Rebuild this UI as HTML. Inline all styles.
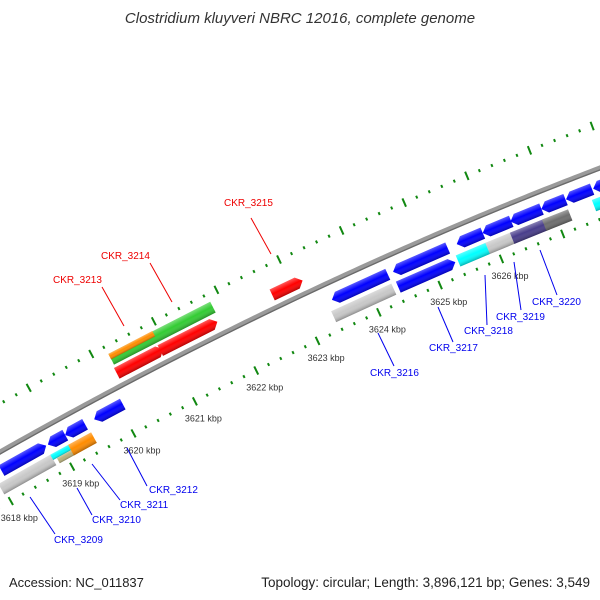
<!DOCTYPE html>
<html><head><meta charset="utf-8"><style>
html,body{margin:0;padding:0;background:#fff;width:600px;height:600px;overflow:hidden}
svg{display:block;font-family:"Liberation Sans",sans-serif}
</style></head><body>
<svg id="map" width="600" height="600" viewBox="0 0 600 600">
<defs>
<linearGradient id="shade" x1="0" y1="0" x2="0" y2="1">
<stop offset="0" stop-color="#fff" stop-opacity="0.35"/>
<stop offset="0.45" stop-color="#fff" stop-opacity="0"/>
<stop offset="1" stop-color="#000" stop-opacity="0.3"/>
</linearGradient>
</defs>
<text x="300" y="23" text-anchor="middle" font-size="15" font-style="italic" fill="#333">Clostridium kluyveri NBRC 12016, complete genome</text>
<text x="9" y="587" font-size="13" fill="#222">Accession: NC_011837</text>
<text x="590" y="587" text-anchor="end" font-size="13.5" fill="#222">Topology: circular; Length: 3,896,121 bp; Genes: 3,549</text>
<g id="ticks"></g><g id="backbone"></g><g id="genes"></g><g id="labels"></g>
</svg>
<script>
// data
const tickKbp = [3618,3619,3620,3621,3622,3623,3624,3625,3626];
const tickLabels = ["3618 kbp","3619 kbp","3620 kbp","3621 kbp","3622 kbp","3623 kbp","3624 kbp","3625 kbp","3626 kbp"];
const geneStart = [3618.10,3618.85,3619.13,3619.60,3623.45,3624.44,3625.47,3625.89,3626.34,3626.84,3627.24,3627.68,
  3617.97,3618.81,3618.87,3619.10,3623.37,3624.42,3625.39,3625.87,3626.27,3626.79,3627.60,
  3620.19,3620.89,3622.69,3620.21,3620.21];
const geneEnd = [3618.82,3619.13,3619.45,3620.06,3624.35,3625.32,3625.89,3626.35,3626.84,3627.23,3627.66,3628.10,
  3618.81,3619.10,3619.15,3619.47,3624.34,3625.34,3625.87,3626.32,3626.84,3627.21,3627.95,
  3620.94,3621.81,3623.18,3621.85,3620.92];
const geneStrand = [1,-1,-1,-1,-1,-1,-1,-1,-1,-1,-1,-1,
  0,0,0,0,0,1,0,0,0,0,0,
  1,1,1,0,0];
const geneTrack = ["b1","b1","b1","b1","b1","b1","b1","b1","b1","b1","b1","b1",
  "b2","b2t","b2b","b2","b2","b2","b2","b2","b2","b2","b2",
  "a1","a1","a1","a2","a2t"];
const geneColor = ["#0000ff","#0000ff","#0000ff","#0000ff","#0000ff","#0000ff","#0000ff","#0000ff","#0000ff","#0000ff","#0000ff","#0000ff",
  "#c8c8c8","#00ffff","#b8b07c","#ff8c00","#c8c8c8","#0000ff","#00ffff","#c8c8c8","#483d8b","#6e6e6e","#00ffff",
  "#ff0000","#ff0000","#ff0000","#33cc33","#ff8c00"];
const labelText = ["CKR_3209","CKR_3210","CKR_3211","CKR_3212","CKR_3213","CKR_3214","CKR_3215","CKR_3216","CKR_3217","CKR_3218","CKR_3219","CKR_3220"];
const labelColor = ["#0000ee","#0000ee","#0000ee","#0000ee","#ee0000","#ee0000","#ee0000","#0000ee","#0000ee","#0000ee","#0000ee","#0000ee"];
const labelX = [54,92,120,149,53,101,224,370,429,464,496,532];
const labelY = [543,523,508,493,283,259,206,376,351,334,320,305];
const lineFrom = [[30,497],[77,488],[92,464],[127,448],[102,287],[150,263],[251,218],[378,333],[438,307],[485,275],[514,262],[540,250]];
const lineTo = [[55,534],[92,515],[120,500],[147,486],[124,326],[172,302],[271,254],[394,366],[453,342],[487,325],[521,310],[557,295]];

const NS="http://www.w3.org/2000/svg";
function xk(k){return 111+62*(k-3620);}
function yb(x){return 452-0.5663*x+1.549e-4*x*x;}
function slope(x){return -0.5663+3.098e-4*x;}
function pt(k,d){const x0=xk(k),m=slope(x0),s=Math.sqrt(1+m*m);return [x0+d*(-m)/s, yb(x0)+d/s];}
function mk(tag,attrs,parent){const e=document.createElementNS(NS,tag);for(const a in attrs)e.setAttribute(a,attrs[a]);parent.appendChild(e);return e;}

// backbone
const bb=document.getElementById('backbone');
let dstr="";for(let x=-20;x<=620;x+=5){const y=yb(x);dstr+=(x===-20?"M":"L")+x+","+y.toFixed(2);}
const bl=mk('path',{d:dstr,fill:"none",stroke:"#9a9a9a","stroke-width":5},bb);


let d2="";for(let x=-20;x<=620;x+=5){const m=slope(x),s=Math.sqrt(1+m*m);d2+=(x===-20?"M":"L")+(x-1.8*m/s).toFixed(2)+","+(yb(x)+1.8/s).toFixed(2);}
mk('path',{d:d2,fill:"none",stroke:"#6a6a6a","stroke-width":1.3},bb);

// ticks
const tg=document.getElementById('ticks');
for(let k=3616;k<=3629.001;k+=0.2){
  const major=Math.abs(k-Math.round(k))<0.01;
  [-42,48].forEach(d=>{
    const p=pt(k,d),ang=Math.atan(slope(xk(k)))*180/Math.PI;
    const r=mk('rect',{x:-1,y:major?-4.5:-1.5,width:2,height:major?9:3,fill:"#118811",transform:`translate(${p[0].toFixed(2)},${p[1].toFixed(2)}) rotate(${ang.toFixed(2)})`},tg);
    
    
  });
}
tickKbp.forEach((k,i)=>{
  const p=pt(k,48);
  const t=mk('text',{x:(p[0]-10).toFixed(1),y:(p[1]+20).toFixed(1),"font-size":"9",fill:"#333"},tg);
  t.textContent=tickLabels[i];
  
  
});

// genes
const trackD={b1:[17,12],b2:[33,12],b2t:[30,6],b2b:[36,6],a1:[-13,12],a2:[-28,12],a2t:[-31,6]};
const gg=document.getElementById('genes');
geneStart.forEach((ks,i)=>{
  const ke=geneEnd[i],P=pt(ks,0),Q=pt(ke,0);
  const L=Math.hypot(Q[0]-P[0],Q[1]-P[1]),ang=Math.atan2(Q[1]-P[1],Q[0]-P[0])*180/Math.PI;
  const [d,h]=trackD[geneTrack[i]];const t=d-h/2,b=d+h/2,a=Math.min(6,L/2);
  let pts;
  if(geneStrand[i]===1)pts=`0,${t} ${L-a},${t} ${L},${d} ${L-a},${b} 0,${b}`;
  else if(geneStrand[i]===-1)pts=`${a},${t} ${L},${t} ${L},${b} ${a},${b} 0,${d}`;
  else pts=`0,${t} ${L},${t} ${L},${b} 0,${b}`;
  const g=mk('g',{transform:`translate(${P[0].toFixed(2)},${P[1].toFixed(2)}) rotate(${ang.toFixed(2)})`},gg);
  
  
  mk('polygon',{points:pts,fill:geneColor[i]},g);
  mk('polygon',{points:pts,fill:"url(#shade)"},g);
});

// labels
const lg=document.getElementById('labels');
labelText.forEach((s,i)=>{
  const l=mk('line',{x1:lineFrom[i][0],y1:lineFrom[i][1],x2:lineTo[i][0],y2:lineTo[i][1],stroke:labelColor[i],"stroke-width":1},lg);
  
  
  const t=mk('text',{x:labelX[i],y:labelY[i],"font-size":"10",fill:labelColor[i]},lg);
  t.textContent=s;
  
  
});
</script>
</body></html>
